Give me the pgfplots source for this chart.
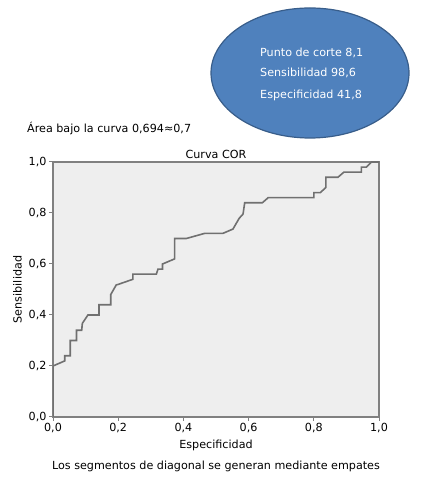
\documentclass[border=0pt]{standalone}
\usepackage{pgfplots}
\pgfplotsset{compat=1.18}
\usepackage{fontspec}
\setmainfont{DejaVu Sans}
\definecolor{bgc}{HTML}{EEEEEE}
\definecolor{axc}{HTML}{808080}
\definecolor{curvec}{HTML}{707070}
\definecolor{ellf}{HTML}{4F81BD}
\definecolor{elld}{HTML}{385D8A}
\newcommand{\fs}{\fontsize{11.2}{13}\selectfont}
\begin{document}
\begin{tikzpicture}[x=1bp,y=1bp]
\useasboundingbox (0,0) rectangle (422,482);
% ellipse annotation
\draw[fill=ellf, draw=elld, line width=1.2bp] (310,409) ellipse [x radius=99, y radius=65];
\node[anchor=west, text=white, font=\fs, inner sep=0pt] at (260,429) {Punto de corte 8,1};
\node[anchor=west, text=white, font=\fs, inner sep=0pt] at (260,409) {Sensibilidad 98,6};
\node[anchor=west, text=white, font=\fs, inner sep=0pt] at (260,387) {Especificidad 41,8};
\node[anchor=west, font=\fs, inner sep=0pt] at (27,354) {Área bajo la curva 0,694≈0,7};
\begin{axis}[
  at={(53bp,65bp)}, anchor=south west,
  scale only axis, width=326bp, height=255bp,
  xmin=0, xmax=1, ymin=0, ymax=1,
  xtick={0,0.2,...,1.0}, ytick={0,0.2,...,1.0},
  axis background/.style={fill=bgc},
  axis line style={draw=axc, line width=1.2bp},
  tick style={draw=axc, line width=1bp},
  tick align=outside, major tick length=4bp,
  xtick pos=bottom, ytick pos=left,
  /pgf/number format/.cd, use comma, fixed, fixed zerofill, precision=1, assume math mode=true,
  /pgfplots/.cd,
  ticklabel style={font=\fs},
  xticklabel style={yshift=1bp},
  yticklabel style={xshift=1bp},
  title={Curva COR},
  title style={font=\fs, yshift=-6bp},
  xlabel={Especificidad},
  xlabel style={font=\fs, yshift=0bp},
  ylabel={Sensibilidad},
  ylabel style={font=\fs, yshift=0bp},
]
\addplot[curvec, line width=1.6bp] coordinates {
(0,0) (0,0.20) (0.036,0.22) (0.036,0.24) (0.053,0.24) (0.053,0.30) (0.072,0.30)
(0.072,0.34) (0.088,0.34) (0.090,0.367) (0.107,0.40) (0.141,0.40) (0.141,0.44)
(0.177,0.44) (0.177,0.48) (0.194,0.518) (0.200,0.52) (0.245,0.54) (0.245,0.56)
(0.317,0.56) (0.322,0.58) (0.336,0.58) (0.336,0.60) (0.373,0.62) (0.373,0.70)
(0.409,0.70) (0.465,0.72) (0.521,0.72) (0.552,0.737) (0.571,0.779) (0.583,0.796)
(0.588,0.84) (0.642,0.84) (0.660,0.86) (0.800,0.86) (0.800,0.88) (0.820,0.88)
(0.837,0.90) (0.837,0.94) (0.874,0.94) (0.892,0.96) (0.946,0.96) (0.946,0.98)
(0.961,0.98) (0.977,1.0) (1.0,1.0)
};
\end{axis}
\node[font=\fs, inner sep=0pt] at (216,16) {Los segmentos de diagonal se generan mediante empates};
\end{tikzpicture}
\end{document}
